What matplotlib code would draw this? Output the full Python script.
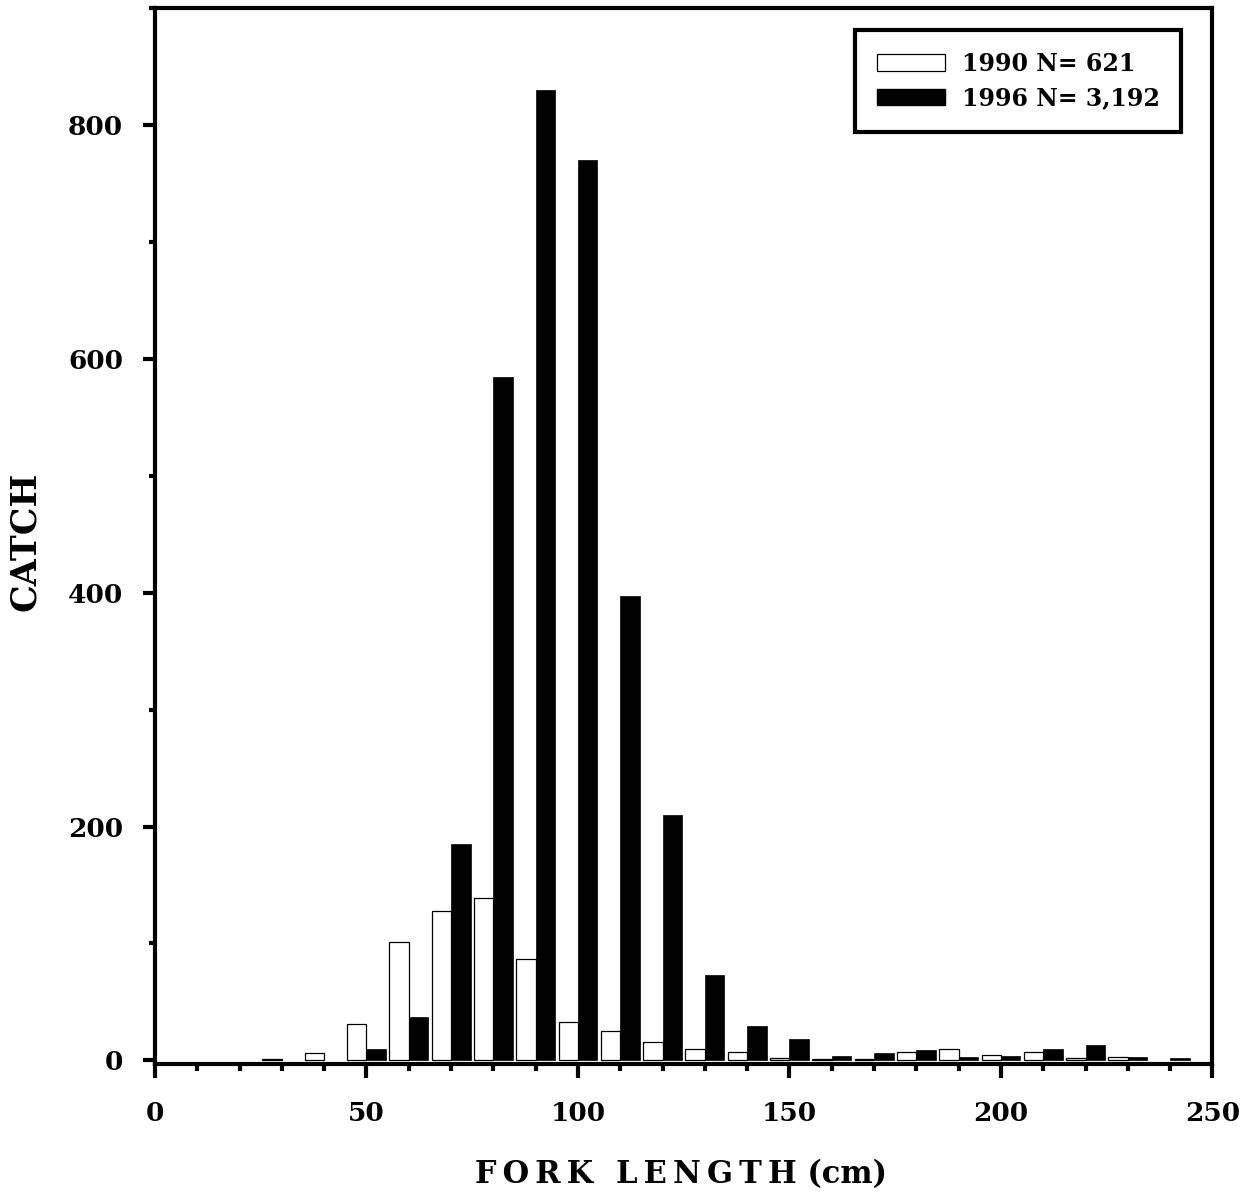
import matplotlib
matplotlib.use("Agg")
import matplotlib.pyplot as plt
from matplotlib.ticker import MultipleLocator
from matplotlib.patches import Patch

# bin centres (cm)
bins = [30, 40, 50, 60, 70, 80, 90, 100, 110, 120, 130, 140, 150, 160, 170,
        180, 190, 200, 210, 220, 230, 240]
catch_1990 = [1, 6, 31, 101, 128, 139, 87, 33, 25, 16, 10, 7, 2, 1, 1,
              7, 10, 5, 7, 2, 3, 0]
catch_1996 = [0, 0, 10, 37, 185, 585, 830, 770, 397, 210, 73, 29, 18, 4, 6,
              9, 3, 4, 10, 13, 3, 2]
label_1990 = "1990 N= 621"
label_1996 = "1996 N= 3,192"
x_ticks = [0, 50, 100, 150, 200, 250]
y_ticks = [0, 200, 400, 600, 800]

FONT = "DejaVu Serif"
plt.rcParams["font.family"] = FONT
plt.rcParams["font.weight"] = "bold"

fig = plt.figure(figsize=(12.54, 11.97), dpi=100)
ax = fig.add_axes([0.1236, 0.1112, 0.8433, 0.8819])

bw = 4.6
b90 = [(b, v) for b, v in zip(bins, catch_1990) if v > 0]
b96 = [(b, v) for b, v in zip(bins, catch_1996) if v > 0]
ax.bar([b for b, _ in b90], [v for _, v in b90], width=-bw, align="edge",
       color="white", edgecolor="black", linewidth=0.9, zorder=2)
ax.bar([b for b, _ in b96], [v for _, v in b96], width=bw, align="edge",
       color="black", edgecolor="black", linewidth=0.5, zorder=2)

ax.set_xlim(0, 250)
ax.set_ylim(-3, 900)

for s in ax.spines.values():
    s.set_linewidth(3)

ax.set_xticks(x_ticks)
ax.set_yticks(y_ticks)
ax.xaxis.set_minor_locator(MultipleLocator(10))
ax.yaxis.set_minor_locator(MultipleLocator(100))
ax.tick_params(axis="x", which="major", direction="out", length=10, width=3,
               pad=17, labelsize=19)
ax.tick_params(axis="x", which="minor", direction="out", length=5, width=3)
ax.tick_params(axis="y", which="major", direction="out", length=9, width=3,
               pad=14, labelsize=19)
ax.tick_params(axis="y", which="minor", direction="out", length=4.5, width=3)
ax.tick_params(top=False, right=False, which="both")
for lab in ax.get_xticklabels() + ax.get_yticklabels():
    lab.set_fontweight("bold")

fig.text(25 / 1254, 1 - 541 / 1197, "CATCH", fontsize=25, fontweight="bold",
         rotation=90, ha="center", va="center")
xl = "\u2009".join("FORK LENGTH") + " (cm)"
fig.text(681 / 1254, 1 - 1175 / 1197, xl, fontsize=22, fontweight="bold",
         ha="center", va="center")

handles = [Patch(facecolor="white", edgecolor="black", linewidth=0.9, label=label_1990),
           Patch(facecolor="black", edgecolor="black", label=label_1996)]
leg = ax.legend(handles=handles, loc="upper right", bbox_to_anchor=(0.970, 0.979),
                borderaxespad=0, fancybox=False, framealpha=1, edgecolor="black",
                prop={"family": FONT, "weight": "bold", "size": 17},
                handlelength=2.9, handleheight=0.7, handletextpad=0.7,
                borderpad=0.9, labelspacing=0.45)
leg.get_frame().set_linewidth(3)

fig.savefig("out.png", dpi=100)
